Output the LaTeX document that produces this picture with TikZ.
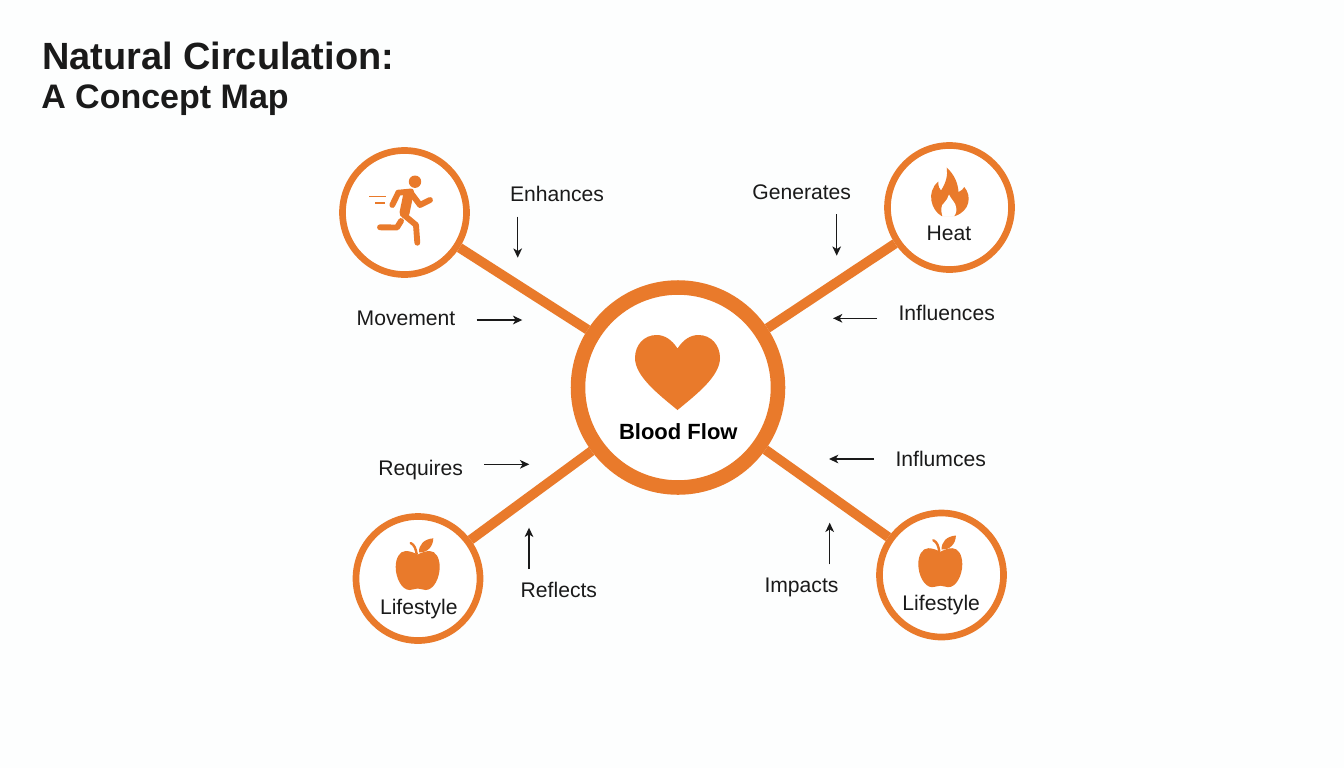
\documentclass[tikz,border=0pt]{standalone}
\usepackage{fontspec}
\setmainfont{Liberation Sans}
\usetikzlibrary{arrows.meta}
\definecolor{accent}{HTML}{E97A2B}
\definecolor{ink}{HTML}{1A1A1A}
\definecolor{paper}{HTML}{FDFEFE}
\tikzset{
  hubring/.style={circle,draw=accent,fill=white,line width=10.9pt,minimum size=150pt,inner sep=0pt},
  satring/.style={circle,draw=accent,fill=white,line width=5pt,minimum size=93pt,inner sep=0pt},
  spoke/.style={draw=accent,line width=7.3pt},
  relarrow/.style={draw=ink,line width=1.05pt,-{Stealth[length=7pt,width=6.5pt,inset=2pt]}},
  label/.style={anchor=base west,inner sep=0pt,outer sep=0pt,text=ink,font=\fontsize{15.85}{18}\selectfont},
  clabel/.style={anchor=base,inner sep=0pt,outer sep=0pt,text=ink,font=\fontsize{15.85}{18}\selectfont},
  limb/.style={draw=accent,line width=4.4pt,line cap=round,line join=round},
  applepic/.pic={
    \fill[accent] (0,-16.5) .. controls (-4,-18.5) and (-8,-20) .. (-12,-20)
      .. controls (-18,-20) and (-22,-13) .. (-22,-4)
      .. controls (-22,7) and (-16,19) .. (-8,19)
      .. controls (-5,19) and (-3,17.5) .. (0,17.5)
      .. controls (3,17.5) and (5,19) .. (8,19)
      .. controls (16,19) and (22,7) .. (22,-4)
      .. controls (22,-13) and (18,-20) .. (12,-20)
      .. controls (8,-20) and (4,-18.5) .. (0,-16.5) -- cycle;
    \fill[accent] (1.3,-18.7) .. controls (1,-26) and (6,-32) .. (15.6,-32.7)
      .. controls (15.5,-25) and (10,-18) .. (1.3,-18.7) -- cycle;
    \draw[accent,line width=1.8pt,line cap=round] (-7,-28) .. controls (-3,-26) and (-2,-22) .. (-1,-17);
  }
}
\begin{document}
\begin{tikzpicture}[x=0.75pt,y=-0.75pt]
\useasboundingbox (0,0) rectangle (1344,768);
\fill[paper] (0,0) rectangle (1344,768);

% rings
\node[hubring] (hub) at (678,387.5) {};
\node[satring] (run) at (404.5,212.5) {};
\node[satring] (heat) at (949.5,207.5) {};
\node[satring] (lifeL) at (418,578.5) {};
\node[satring] (lifeR) at (941.5,575) {};

% spokes
\draw[spoke] (run) -- (hub);
\draw[spoke] (heat) -- (hub);
\draw[spoke] (lifeL) -- (hub);
\draw[spoke] (lifeR) -- (hub);

% heart
\fill[accent] (677.5,348.5) .. controls (672,340) and (665,335) .. (656.5,335)
  .. controls (644,335) and (635,345) .. (635,358)
  .. controls (635,376) and (658,394) .. (677.5,410)
  .. controls (697,394) and (720,376) .. (720,358)
  .. controls (720,345) and (711,335) .. (698.5,335)
  .. controls (690,335) and (683,340) .. (677.5,348.5) -- cycle;

% runner
\fill[accent] (415,181.7) circle[radius=6.2];
\draw[limb,line width=7.5pt] (408,196) -- (404.5,213);
\draw[limb] (398.3,192.7) -- (411,191.5);
\draw[limb] (398.3,192.7) -- (392.3,205);
\draw[limb] (411,193) -- (420,205) -- (430,200);
\draw[limb] (404,215) -- (416,225) -- (417.3,242.7);
\draw[limb] (401,221) -- (397,227.5) -- (380,227.3);
\draw[accent,line width=1.1pt] (369,196.3) -- (386,196.3);
\draw[accent,line width=1.1pt] (375,203) -- (385,203);

% flame
\fill[accent] (941.5,216) .. controls (931,210) and (926,192) .. (938.3,181.5)
  .. controls (938.3,186) and (939,189) .. (941,190.5)
  .. controls (946,183) and (948,175) .. (946.7,167.7)
  .. controls (954,174) and (958,183) .. (958.5,192)
  .. controls (961,191) and (963.5,189) .. (964.3,187)
  .. controls (972,196) and (970,211) .. (955,216) -- cycle;
\fill[white] (942.5,216.5) .. controls (940.5,210) and (941,205) .. (944,203)
  .. controls (946,201) and (948,198) .. (949,194.5)
  .. controls (951,199) and (954,201) .. (955.5,205)
  .. controls (957,210) and (956.5,213) .. (954,216.5) -- cycle;

% apples
\pic at (417.7,571) {applepic};
\pic at (940.3,568.2) {applepic};

% inner labels
\node[anchor=base,inner sep=0pt,text=black,font=\fontsize{16.5}{20}\selectfont\bfseries] (hubtxt) at (678.3,439) {Blood Flow};
\node[clabel] (heattxt) at (949,240) {Heat};
\node[clabel] (lifeLtxt) at (418.8,614.3) {Lifestyle};
\node[clabel] (lifeRtxt) at (941.2,610.7) {Lifestyle};

% title
\node[anchor=base west,inner sep=0pt,text=ink,font=\fontsize{28.45}{32}\selectfont\bfseries] (title1) at (41.8,69) {Natural Circulation:};
\node[anchor=base west,inner sep=0pt,text=ink,font=\fontsize{25.5}{30}\selectfont\bfseries] (title2) at (41,108.3) {A Concept Map};

% relation labels
\node[label] (lenh) at (510,201.7) {Enhances};
\node[label] (lmov) at (356.7,325.7) {Movement};
\node[label] (lgen) at (752.3,199) {Generates};
\node[label] (linf) at (898.5,320.7) {Influences};
\node[label] (lreq) at (378.3,475.7) {Requires};
\node[label] (lref) at (520.7,597.7) {Reflects};
\node[label] (lifm) at (895.5,466.7) {Influmces};
\node[label] (limp) at (764.5,592.7) {Impacts};

% small arrows
\coordinate (a1s) at (517.7,216.7); \coordinate (a1e) at (517.7,257.7);
\coordinate (a2s) at (476.7,320);   \coordinate (a2e) at (522.3,320);
\coordinate (a3s) at (836.7,214);   \coordinate (a3e) at (836.7,255.7);
\coordinate (a4s) at (877,318.3);   \coordinate (a4e) at (833,318.3);
\coordinate (a5s) at (484,464.3);   \coordinate (a5e) at (529.3,464.3);
\coordinate (a6s) at (529,569);     \coordinate (a6e) at (529,527.7);
\coordinate (a7s) at (874,459);     \coordinate (a7e) at (829,459);
\coordinate (a8s) at (829.7,564.3); \coordinate (a8e) at (829.7,522.7);
\draw[relarrow] (a1s) -- (a1e);
\draw[relarrow] (a2s) -- (a2e);
\draw[relarrow] (a3s) -- (a3e);
\draw[relarrow] (a4s) -- (a4e);
\draw[relarrow] (a5s) -- (a5e);
\draw[relarrow] (a6s) -- (a6e);
\draw[relarrow] (a7s) -- (a7e);
\draw[relarrow] (a8s) -- (a8e);
\end{tikzpicture}
\end{document}
